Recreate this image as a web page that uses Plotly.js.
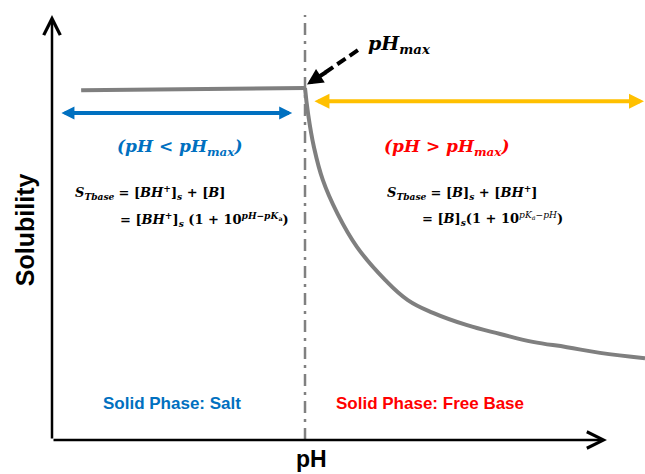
<!DOCTYPE html>
<html>
<head>
<meta charset="utf-8">
<script src="https://cdn.plot.ly/plotly-3.0.1.min.js"></script>
<style>html,body{margin:0;padding:0;background:#fff;}#chart{width:645px;height:474px;}</style>
</head>
<body>
<div id="chart"></div>
<script>
// Schematic data (pH on x, solubility on y, arbitrary units)
const pHmax = 5.12;
const flatPH = [0.59, 5.12];
const flatS = [7.95, 8.0];
const curvePH = [5.12, 5.18, 5.30, 5.48, 5.77, 6.17, 6.74, 7.20, 7.71, 8.40, 9.07, 9.73, 10.42, 11.09, 12.0];
const curveS = [8.0, 7.43, 6.66, 5.91, 5.16, 4.39, 3.64, 3.18, 2.89, 2.61, 2.41, 2.23, 2.11, 1.98, 1.86];
const saltRangePH = [0.16, 4.86];
const baseRangePH = [5.28, 11.98];
const axisEnd = {x: 11.23, y: 9.66};

const math = "DejaVu Serif";
const sans = "Liberation Sans, Arial";
const BLUE = "#0070C0", RED = "#FF0000", GOLD = "#FFC000", GRAY = "#7F7F7F";

const traces = [
  {x: flatPH, y: flatS, mode: "lines", line: {color: GRAY, width: 4}, hoverinfo: "skip"},
  {x: curvePH, y: curveS, mode: "lines", line: {color: GRAY, width: 4, shape: "spline", smoothing: 1.2}, hoverinfo: "skip"}
];

function arrow(x, y, ax, ay, opts) {
  return Object.assign({x: x, y: y, ax: ax, ay: ay, xref: "x", yref: "y", axref: "x", ayref: "y",
    text: "", showarrow: true, standoff: 0, startstandoff: 0}, opts);
}
function label(x, y, text, font, opts) {
  return Object.assign({x: x, y: y, xref: "x", yref: "y", text: text, showarrow: false, font: font}, opts || {});
}

const mf = (size, color) => ({family: math, size: size, color: color || "#000"});
const sf = (size, color) => ({family: sans, size: size, color: color || "#000"});

const annotations = [
  // axes with arrowheads
  arrow(0, axisEnd.y, 0, 0, {arrowhead: 5, arrowsize: 1.3, arrowwidth: 2.5, arrowcolor: "#000"}),
  arrow(axisEnd.x, 0, 0, 0, {arrowhead: 5, arrowsize: 1.3, arrowwidth: 2.5, arrowcolor: "#000"}),
  // range arrows
  arrow(saltRangePH[1], 7.43, saltRangePH[0], 7.43, {arrowside: "end+start", arrowhead: 2, startarrowhead: 2,
    arrowsize: 0.65, startarrowsize: 0.65, arrowwidth: 4, arrowcolor: BLUE}),
  arrow(baseRangePH[1], 7.70, baseRangePH[0], 7.70, {arrowside: "end+start", arrowhead: 2, startarrowhead: 2,
    arrowsize: 0.75, startarrowsize: 0.75, arrowwidth: 4, arrowcolor: GOLD}),
  // pHmax pointer head
  {x: 5.16, y: 8.08, xref: "x", yref: "y", ax: 20, ay: -13, axref: "pixel", ayref: "pixel", text: "",
    showarrow: true, arrowhead: 2, arrowsize: 0.8, arrowwidth: 4, arrowcolor: "#000", standoff: 0},
  label(7.04, 8.98, "<b><i>pH</i></b><sub><b><i>max</i></b></sub>", mf(19)),
  label(2.59, 6.64, "<b><i>(pH &lt; pH</i></b><sub><b><i>max</i></b></sub><b><i>)</i></b>", mf(17, BLUE)),
  label(7.99, 6.64, "<b><i>(pH &gt; pH</i></b><sub><b><i>max</i></b></sub><b><i>)</i></b>", mf(17, RED)),
  label(0.42, 5.62, "<b><i>S</i></b><sub><b><i>Tbase</i></b></sub> <b>= [<i>BH</i></b><sup><b>+</b></sup><b>]</b><sub><b><i>s</i></b></sub><b> + [<i>B</i>]</b>", mf(13), {xanchor: "left"}),
  label(1.34, 5.02, "<b>= [<i>BH</i></b><sup><b>+</b></sup><b>]</b><sub><b><i>s</i></b></sub><b> (1 + 10</b><sup><b><i>pH−pK</i><sub>a</sub></b></sup><b>)</b>", mf(13), {xanchor: "left"}),
  label(6.74, 5.62, "<b><i>S</i></b><sub><b><i>Tbase</i></b></sub> <b>= [<i>B</i>]</b><sub><b><i>s</i></b></sub><b> + [<i>BH</i></b><sup><b>+</b></sup><b>]</b>", mf(13), {xanchor: "left"}),
  label(7.45, 5.02, "<b>= [<i>B</i>]</b><sub><b><i>s</i></b></sub><b>(1 + 10</b><sup><i>pK<sub>a</sub>−pH</i></sup><b>)</b>", mf(13), {xanchor: "left"}),
  label(2.43, 0.84, "<b>Solid Phase: Salt</b>", sf(17, BLUE)),
  label(7.65, 0.84, "<b>Solid Phase: Free Base</b>", sf(17, RED)),
  {x: 0.437, y: -0.043, xref: "paper", yref: "paper", xanchor: "center", yanchor: "middle",
    text: "<b>pH</b>", showarrow: false, font: sf(23)},
  {x: -0.0455, y: 0.477, xref: "paper", yref: "paper", xanchor: "center", yanchor: "middle",
    text: "<b>Solubility</b>", showarrow: false, font: sf(25), textangle: -90}
];

const shapes = [
  {type: "line", xref: "x", yref: "y", x0: pHmax, x1: pHmax, y0: 0, y1: axisEnd.y,
    line: {color: "#808080", width: 2.5, dash: "12px,6px,3px,6px"}, layer: "below"},
  {type: "line", xref: "x", yref: "y", x0: 6.19, y0: 8.86, x1: 5.5, y1: 8.33,
    line: {color: "#000", width: 4, dash: "10px,5px"}}
];

const layout = {
  width: 645, height: 474,
  margin: {l: 52, r: 0, t: 0, b: 34, pad: 0},
  paper_bgcolor: "#fff", plot_bgcolor: "#fff",
  showlegend: false,
  xaxis: {range: [0, 12], visible: false, fixedrange: true},
  yaxis: {range: [0, 10], visible: false, fixedrange: true},
  annotations: annotations,
  shapes: shapes
};

Plotly.newPlot("chart", traces, layout, {staticPlot: true, displayModeBar: false});
</script>
</body>
</html>
